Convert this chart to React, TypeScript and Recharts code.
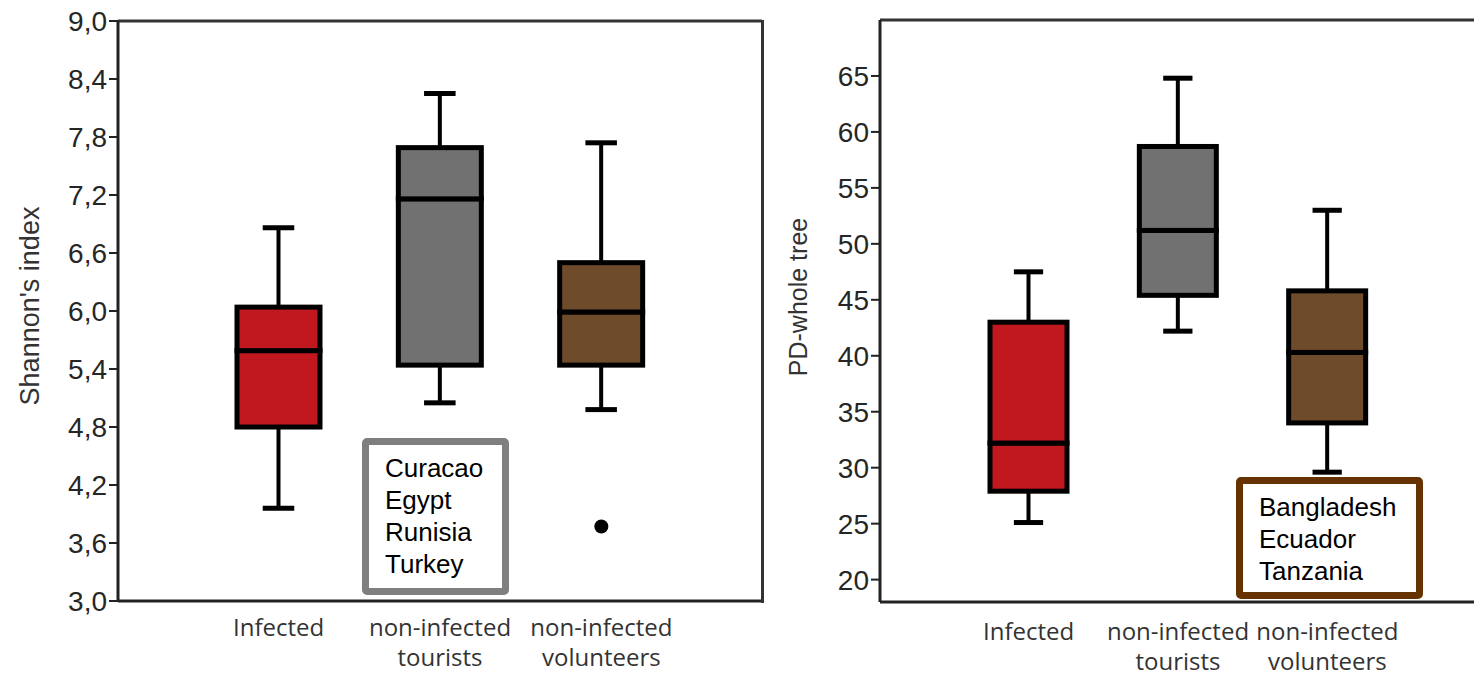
import { ComposedChart, Bar, Line, XAxis, YAxis, Label, ReferenceLine } from 'recharts';

const groups = ['Infected', 'non-infected tourists', 'non-infected volunteers'];
const groupLines = [['Infected'], ['non-infected', 'tourists'], ['non-infected', 'volunteers']];
const groupColors = ['#c1181f', '#717171', '#6d4b2b'];

// Shannon's index per group
const shannonMin = [3.96, 5.05, 4.98];
const shannonQ1 = [4.8, 5.44, 5.44];
const shannonMedian = [5.59, 7.16, 5.99];
const shannonQ3 = [6.04, 7.69, 6.5];
const shannonMax = [6.86, 8.25, 7.74];
const shannonOutlier = [null, null, 3.77];
const shannonTicks = [3, 3.6, 4.2, 4.8, 5.4, 6, 6.6, 7.2, 7.8, 8.4, 9];

// PD-whole tree per group
const pdMin = [25.1, 42.2, 29.6];
const pdQ1 = [27.9, 45.4, 34.0];
const pdMedian = [32.2, 51.2, 40.3];
const pdQ3 = [43.0, 58.7, 45.8];
const pdMax = [47.5, 64.8, 53.0];
const pdOutlier = [null, null, null];
const pdTicks = [20, 25, 30, 35, 40, 45, 50, 55, 60, 65];

const touristCountries = ['Curacao', 'Egypt', 'Runisia', 'Turkey'];
const volunteerCountries = ['Bangladesh', 'Ecuador', 'Tanzania'];

const AXIS = '#222';
const FRAME = '#333';
const TICK_FONT = { fill: '#262626', fontSize: 28, fontFamily: 'Liberation Sans, Arial, sans-serif' };

type Num = number | null;

// stacked segments: invisible base, lower whisker, lower half box, upper half box, upper whisker
function buildRows(min: number[], q1: number[], med: number[], q3: number[], max: number[], outlier: Num[]) {
  return groups.map((name, i) => ({
    name,
    base: min[i],
    lowWhisker: q1[i] - min[i],
    lowBox: med[i] - q1[i],
    highBox: q3[i] - med[i],
    highWhisker: max[i] - q3[i],
    outlier: outlier[i],
  }));
}

const shannonRows = buildRows(shannonMin, shannonQ1, shannonMedian, shannonQ3, shannonMax, shannonOutlier);
const pdRows = buildRows(pdMin, pdQ1, pdMedian, pdQ3, pdMax, pdOutlier);

const Empty = () => <g />;

const LowWhisker = (p: any) => {
  const cx = p.x + p.width / 2;
  const cap = p.width * 0.38;
  const bottom = p.y + p.height;
  return (
    <g>
      <line x1={cx} x2={cx} y1={p.y} y2={bottom} stroke="#000" strokeWidth={4} />
      <line x1={cx - cap / 2} x2={cx + cap / 2} y1={bottom} y2={bottom} stroke="#000" strokeWidth={5} />
    </g>
  );
};

const HighWhisker = (p: any) => {
  const cx = p.x + p.width / 2;
  const cap = p.width * 0.38;
  return (
    <g>
      <line x1={cx} x2={cx} y1={p.y} y2={p.y + p.height} stroke="#000" strokeWidth={4} />
      <line x1={cx - cap / 2} x2={cx + cap / 2} y1={p.y} y2={p.y} stroke="#000" strokeWidth={5} />
    </g>
  );
};

const BoxHalf = (p: any) => (
  <rect x={p.x} y={p.y} width={p.width} height={p.height} fill={groupColors[p.index]} stroke="#000" strokeWidth={5} />
);

const GroupTick = (p: any) => {
  const idx = groups.indexOf(p.payload.value);
  const lines = groupLines[idx] || [p.payload.value];
  return (
    <text x={p.x} y={p.y} textAnchor="middle" fill="#333" fontSize={24} fontFamily="Open Sans, sans-serif">
      {lines.map((l, i) => (
        <tspan key={i} x={p.x} dy={i === 0 ? p.first : 30}>{l}</tspan>
      ))}
    </text>
  );
};

const axisTitle = (text: string, dx: number, dy: number, size: number) => (p: any) => {
  const vb = p.viewBox || { x: 0, y: 0, width: 0, height: 0 };
  const cx = vb.x + dx;
  const cy = vb.y + vb.height / 2 + dy;
  return (
    <text x={cx} y={cy} transform={`rotate(-90, ${cx}, ${cy})`} textAnchor="middle" dominantBaseline="central"
      fill="#333" fontSize={size} fontFamily="Liberation Sans, Arial, sans-serif">
      {text}
    </text>
  );
};

interface PanelProps {
  rows: ReturnType<typeof buildRows>;
  width: number;
  top: number;
  right: number;
  axisWidth: number;
  xAxisHeight: number;
  pad: number;
  barSize: number;
  domain: [number, number];
  ticks: number[];
  format: (v: number) => string;
  title: React.ReactNode;
  firstLine: number;
}

const BoxPanel = (props: PanelProps) => (
  <ComposedChart width={props.width} height={675} data={props.rows}
    margin={{ top: props.top, right: props.right, bottom: 0, left: 0 }}>
    <XAxis dataKey="name" interval={0} padding={{ left: props.pad, right: props.pad }} height={props.xAxisHeight}
      tickSize={0} tickMargin={0} axisLine={{ stroke: AXIS, strokeWidth: 3 }}
      tick={(t: any) => <GroupTick {...t} first={props.firstLine} />} />
    <YAxis domain={props.domain} ticks={props.ticks} allowDataOverflow width={props.axisWidth}
      tickFormatter={props.format} tick={TICK_FONT} tickSize={9} tickMargin={2}
      tickLine={{ stroke: AXIS, strokeWidth: 2 }} axisLine={{ stroke: AXIS, strokeWidth: 3 }}>
      <Label content={props.title as any} />
    </YAxis>
    {/* top edge of the frame */}
    <ReferenceLine y={props.domain[1]} stroke={FRAME} strokeWidth={3} ifOverflow="visible" />
    <Bar dataKey="base" stackId="box" barSize={props.barSize} shape={Empty} isAnimationActive={false} />
    <Bar dataKey="lowWhisker" stackId="box" barSize={props.barSize} shape={LowWhisker} isAnimationActive={false} />
    <Bar dataKey="lowBox" stackId="box" barSize={props.barSize} shape={BoxHalf} isAnimationActive={false} />
    <Bar dataKey="highBox" stackId="box" barSize={props.barSize} shape={BoxHalf} isAnimationActive={false} />
    <Bar dataKey="highWhisker" stackId="box" barSize={props.barSize} shape={HighWhisker} isAnimationActive={false} />
    <Line dataKey="outlier" stroke="none" dot={{ r: 7, fill: '#000', stroke: 'none' }} activeDot={false}
      isAnimationActive={false} />
  </ComposedChart>
);

const noteBox = (border: string): React.CSSProperties => ({
  position: 'absolute',
  boxSizing: 'border-box',
  border: `7px solid ${border}`,
  borderRadius: 5,
  background: '#fff',
  paddingLeft: 16,
  paddingTop: 7,
  fontFamily: 'Liberation Sans, Arial, sans-serif',
  fontSize: 26,
  lineHeight: '32px',
  color: '#000',
});

export default function App() {
  return (
    <div style={{ position: 'absolute', left: 0, top: 0, width: 1474, height: 675, overflow: 'hidden', background: '#fff' }}>
      <div style={{ position: 'absolute', left: 0, top: 0 }}>
        <BoxPanel rows={shannonRows} width={780} top={21} right={18} axisWidth={118} xAxisHeight={74} pad={80}
          barSize={83} domain={[3, 9]} ticks={shannonTicks} format={(v) => v.toFixed(1).replace('.', ',')}
          title={axisTitle("Shannon's index", 30, -5, 27)} firstLine={35} />
      </div>
      {/* right edge of the left frame */}
      <div style={{ position: 'absolute', left: 760.5, top: 19.5, width: 3, height: 583, background: FRAME }} />
      <div style={{ position: 'absolute', left: 740, top: 0 }}>
        <BoxPanel rows={pdRows} width={760} top={20} right={24} axisWidth={140} xAxisHeight={73} pad={74}
          barSize={77} domain={[18, 70]} ticks={pdTicks} format={(v) => String(v)}
          title={axisTitle('PD-whole tree', 58, -14, 25)} firstLine={38} />
      </div>
      <div style={{ ...noteBox('#7f7f7f'), left: 362, top: 438, width: 147, height: 157 }}>
        {touristCountries.map((c) => <div key={c}>{c}</div>)}
      </div>
      <div style={{ ...noteBox('#663300'), left: 1236, top: 477, width: 187, height: 122 }}>
        {volunteerCountries.map((c) => <div key={c}>{c}</div>)}
      </div>
    </div>
  );
}
